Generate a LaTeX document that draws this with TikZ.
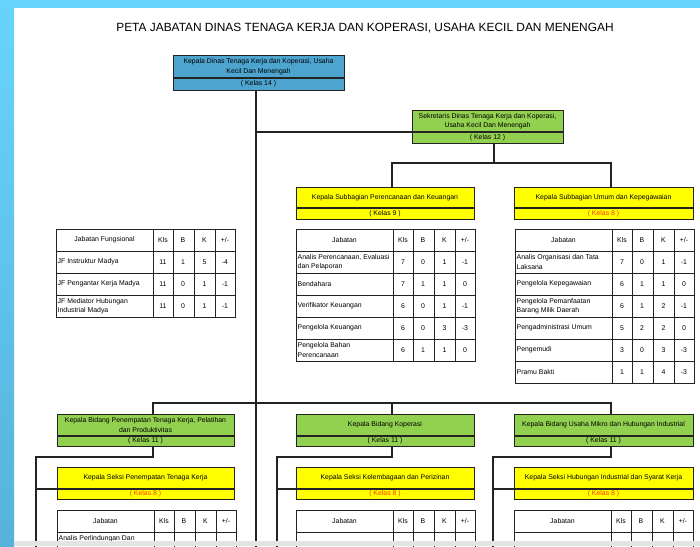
\documentclass[tikz,border=0pt]{standalone}
\usepackage{fontspec}
\setmainfont{Liberation Sans}
\definecolor{bgblue}{RGB}{103,212,254}
\definecolor{bgblue2}{RGB}{86,178,220}
\definecolor{kblue}{RGB}{77,164,206}
\definecolor{kgreen}{RGB}{146,208,80}
\definecolor{kyellow}{RGB}{255,255,0}
\definecolor{kred}{RGB}{255,60,0}
\definecolor{lnc}{RGB}{35,35,35}
\definecolor{barg}{RGB}{228,228,228}
\tikzset{
  conn/.style={draw=lnc, line width=1.1pt},
  orgbox/.style={draw=lnc, line width=1.1pt, inner sep=0pt, anchor=north west},
  tabframe/.style={draw=lnc, line width=1pt, inner sep=0pt, anchor=north west},
  tab/.style={draw=lnc, line width=1pt},
  btxt/.style={font=\fontsize{6.9}{9.5}\selectfont, align=center, inner sep=0pt},
  ttxt/.style={font=\fontsize{6.9}{9.5}\selectfont, inner sep=0pt},
}
% box: name, x1, y1, x2, ydiv, y2, fill, text, kelas
\newcommand\obox[9]{%
  \node[orgbox, fill=#7, minimum width={(#4-#2)*1pt}, minimum height={(#6-#3)*1pt}] (#1) at (#2,#3) {};
  \draw[conn] (#2,#5) -- (#4,#5);
  \node[btxt] (#1t) at ({(#2+#4)/2},{(#3+#5)/2}) {#8};
  \node[btxt] (#1k) at ({(#2+#4)/2},{(#5+#6)/2}) {#9};
}
% table grid: name, x0, y0, data rows, first header
\newcommand\jtab[5]{%
  \pgfmathsetmacro\ybot{#3+22+22*#4}
  \node[tabframe, minimum width=179pt, minimum height={(\ybot-#3)*1pt}] (#1) at (#2,#3) {};
  \foreach \o in {97,117,138,159} \draw[tab] ({#2+\o},#3) -- ({#2+\o},\ybot);
  \foreach \r in {1,...,#4} \draw[tab] (#2,{#3+22*\r}) -- ({#2+179},{#3+22*\r});
  \node[ttxt] (#1h) at ({#2+48.5},{#3+11}) {#5};
  \foreach \o/\l in {107/Kls,127/B,148.5/K,169/{+/-}}
    \node[ttxt] at ({#2+\o},{#3+11}) {\l};
}
\newcommand\jrows[3]{% x0, y0, list
  \foreach \n/\a/\b/\c/\d [count=\i] in {#3} {
    \node[ttxt, anchor=west, align=left] at ({#1+1.5},{#2+22*\i+11}) {\n};
    \node[ttxt] at ({#1+107},{#2+22*\i+11}) {\a};
    \node[ttxt] at ({#1+127},{#2+22*\i+11}) {\b};
    \node[ttxt] at ({#1+148.5},{#2+22*\i+11}) {\c};
    \node[ttxt] at ({#1+169},{#2+22*\i+11}) {\d};
  }
}
\begin{document}
\begin{tikzpicture}[x=1pt,y=-1pt]
\useasboundingbox (0,0) rectangle (700,546);
\begin{scope}
\clip (0,0) rectangle (700,546);
% background
\fill[white] (0,0) rectangle (700,546);
\fill[bgblue] (0,0) rectangle (700,8);
\shade[top color=bgblue, bottom color=bgblue2] (0,0) rectangle (14,546);

% title
\node[font=\fontsize{11.9}{14}\selectfont, inner sep=0pt] (title) at (365,28.5)
  {PETA JABATAN DINAS TENAGA KERJA DAN KOPERASI, USAHA KECIL DAN MENENGAH};

% boxes
\obox{kadis}{173}{55}{344}{78}{90}{kblue}{Kepala Dinas Tenaga Kerja dan Koperasi, Usaha\\Kecil Dan Menengah}{( Kelas 14 )}
\obox{sekre}{412}{110}{563}{132}{143}{kgreen}{Sekretaris Dinas Tenaga Kerja dan Koperasi,\\Usaha Kecil Dan Menengah}{( Kelas 12 )}
\obox{suba}{296}{187}{474}{208}{219}{kyellow}{Kepala Subbagian Perencanaan dan Keuangan}{( Kelas 9 )}
\obox{subb}{514}{187}{693}{208}{219}{kyellow}{Kepala Subbagian Umum dan Kepegawaian}{\textcolor{kred}{( Kelas 8 )}}
\obox{bida}{57}{414}{234}{436}{446}{kgreen}{Kepala Bidang Penempatan Tenaga Kerja, Pelatihan\\dan Produktivitas}{( Kelas 11 )}
\obox{bidb}{296}{414}{474}{436}{446}{kgreen}{Kepala Bidang Koperasi}{( Kelas 11 )}
\obox{bidc}{514}{414}{693}{436}{446}{kgreen}{Kepala Bidang Usaha Mikro dan Hubungan Industrial}{( Kelas 11 )}
\obox{seka}{57}{467}{234}{489}{499}{kyellow}{Kepala Seksi Penempatan Tenaga Kerja}{\textcolor{kred}{( Kelas 8 )}}
\obox{sekb}{296}{467}{474}{489}{499}{kyellow}{Kepala Seksi Kelembagaan dan Perizinan}{\textcolor{kred}{( Kelas 8 )}}
\obox{sekc}{514}{467}{693}{489}{499}{kyellow}{Kepala Seksi Hubungan Industrial dan Syarat Kerja}{\textcolor{kred}{( Kelas 8 )}}

% connector coordinates
\coordinate (mtop) at (256,90);
\coordinate (mbot) at (256,560);
\coordinate (ms) at (256,132);
\coordinate (sj) at (494,163);
\coordinate (h1) at (392,163);
\coordinate (h2) at (611,163);
\coordinate (b1) at (153,403);
\coordinate (b2) at (392,403);
\coordinate (b3) at (611,403);
\coordinate (la) at (36,457);
\coordinate (lb) at (277,457);
\coordinate (lc) at (493,457);

\draw[conn] (mtop) -- (mbot);
\draw[conn] (ms) -- (ms -| sekre.west);
\draw[conn] (sekre.south -| sj) -- (sj);
\draw[conn] (suba.north -| h1) -- (h1) -- (h2) -- (subb.north -| h2);
\draw[conn] (bida.north -| b1) -- (b1) -- (b3) -- (bidc.north -| b3);
\draw[conn] (b2) -- (bidb.north -| b2);
\draw[conn] (bida.south -| b1) |- (la) -- (la |- mbot);
\draw[conn] (bidb.south -| b2) |- (lb) -- (lb |- mbot);
\draw[conn] (bidc.south -| b3) |- (lc) -- (lc |- mbot);
\draw[conn] (seka.west |- 0,489) -- (la |- 0,489);
\draw[conn] (sekb.west |- 0,489) -- (lb |- 0,489);
\draw[conn] (sekc.west |- 0,489) -- (lc |- 0,489);

% tables
\jtab{tfung}{56}{229}{3}{Jabatan Fungsional}
\jrows{56}{229}{{JF Instruktur Madya}/11/1/5/-4,{JF Pengantar Kerja Madya}/11/0/1/-1,{JF Mediator Hubungan\\Industrial Madya}/11/0/1/-1}
\jtab{tsuba}{296}{229}{5}{Jabatan}
\jrows{296}{229}{{Analis Perencanaan, Evaluasi\\dan Pelaporan}/7/0/1/-1,{Bendahara}/7/1/1/0,{Verifikator Keuangan}/6/0/1/-1,{Pengelola Keuangan}/6/0/3/-3,{Pengelola Bahan\\Perencanaan}/6/1/1/0}
\jtab{tsubb}{515}{229}{6}{Jabatan}
\jrows{515}{229}{{Analis Organisasi dan Tata\\Laksana}/7/0/1/-1,{Pengelola Kepegawaian}/6/1/1/0,{Pengelola Pemanfaatan\\Barang Milik Daerah}/6/1/2/-1,{Pengadministrasi Umum}/5/2/2/0,{Pengemudi}/3/0/3/-3,{Pramu Bakti}/1/1/4/-3}
\jtab{tseka}{57}{510}{2}{Jabatan}
\node[ttxt, anchor=north west] (tsekar) at (58.5,535) {Analis Perlindungan Dan};
\jtab{tsekb}{296}{510}{2}{Jabatan}
\jtab{tsekc}{514}{510}{2}{Jabatan}

% bottom bar
\fill[barg] (14,541) rectangle (700,546);
\end{scope}
\end{tikzpicture}
\end{document}
